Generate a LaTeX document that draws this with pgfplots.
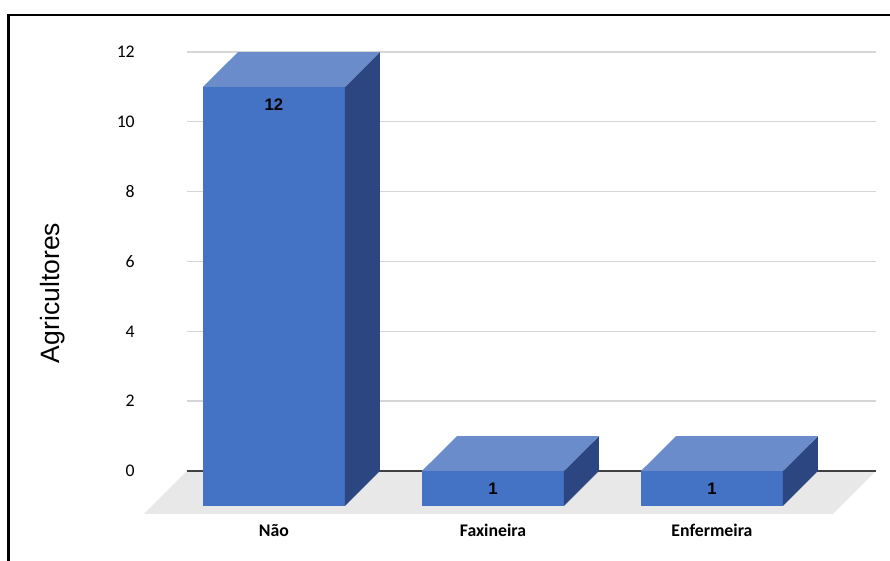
\documentclass[border=0pt]{standalone}
\usepackage{fontspec}
\setmainfont{Liberation Sans}
\newfontfamily\calfont{Carlito}
\usepackage{pgfplots}
\pgfplotsset{compat=1.18}

\definecolor{barfront}{HTML}{4472C4}
\definecolor{bartop}{HTML}{6A8CCB}
\definecolor{barside}{HTML}{2B4680}
\definecolor{floorgray}{HTML}{E8E8E8}
\definecolor{gridgray}{HTML}{D6D6D6}
\definecolor{zerogray}{HTML}{404040}

% half width of a bar, and the depth offset of the 3D look (x and y)
\newcommand{\hw}{0.324}
\newcommand{\dx}{0.16}
\newcommand{\dy}{1}

% 3D bar: #1 = category position, #2 = value
\newcommand{\threedbar}[2]{%
  \pgfmathsetmacro{\xl}{#1-\hw-\dx}%
  \pgfmathsetmacro{\xr}{#1+\hw-\dx}%
  \pgfmathsetmacro{\xL}{#1-\hw}%
  \pgfmathsetmacro{\xR}{#1+\hw}%
  \pgfmathsetmacro{\yf}{#2-\dy}%
  \addplot[draw=none, fill=barfront] coordinates {(\xl,-\dy) (\xr,-\dy) (\xr,\yf) (\xl,\yf)};
  \addplot[draw=none, fill=barside] coordinates {(\xr,-\dy) (\xR,0) (\xR,#2) (\xr,\yf)};
  \addplot[draw=none, fill=bartop] coordinates {(\xl,\yf) (\xr,\yf) (\xR,#2) (\xL,#2)};
  \node[font=\bfseries\fontsize{12.5}{14}\selectfont, anchor=center]
    at (axis cs:{#1-\dx},{#2-\dy-0.5}) {#2};
}

\begin{document}
\begin{tikzpicture}
\begin{axis}[
  at={(140.25pt,-405.6pt)}, anchor=south west,
  scale only axis, width=516.75pt, height=366.6pt,
  xmin=-0.557, xmax=2.589, ymin=-2, ymax=12,
  clip=false,
  axis line style={draw=none},
  tick style={draw=none},
  xtick=\empty,
  ytick={0,2,4,6,8,10,12},
  ymajorgrids,
  major grid style={draw=gridgray, line width=1pt},
  /pgf/number format/assume math mode=true,
  yticklabel style={anchor=east, inner sep=0pt, xshift=-39pt,
    font=\calfont\fontsize{13.3}{15}\selectfont},
  ylabel={Agricultores},
  every axis y label/.style={at={(axis description cs:-0.1945,0.507)},
    rotate=90, anchor=center, inner sep=0pt,
    font=\fontsize{19.9}{24}\selectfont},
]
% floor
\addplot[draw=none, fill=floorgray] coordinates {(-0.557,0) (2.589,0) (2.393,-1.23) (-0.753,-1.23)};
% zero line
\addplot[color=zerogray, line width=0.9pt] coordinates {(-0.557,0) (2.589,0)};

\threedbar{0}{12}
\threedbar{1}{1}
\threedbar{2}{1}

% category names
\node[font=\calfont\bfseries\fontsize{13.3}{15}\selectfont, anchor=base] at (axis cs:{0-\dx},-1.875) {Não};
\node[font=\calfont\bfseries\fontsize{13.3}{15}\selectfont, anchor=base] at (axis cs:{1-\dx},-1.875) {Faxineira};
\node[font=\calfont\bfseries\fontsize{13.3}{15}\selectfont, anchor=base] at (axis cs:{2-\dx},-1.875) {Enfermeira};
\end{axis}
% outer frame
\draw[line width=1.7pt] (6.4pt,-430pt) -- (6.4pt,-11.25pt) -- (680pt,-11.25pt);
\pgfresetboundingbox
\path[use as bounding box] (0,0) rectangle (667.5pt,-420.75pt);
\end{tikzpicture}
\end{document}
